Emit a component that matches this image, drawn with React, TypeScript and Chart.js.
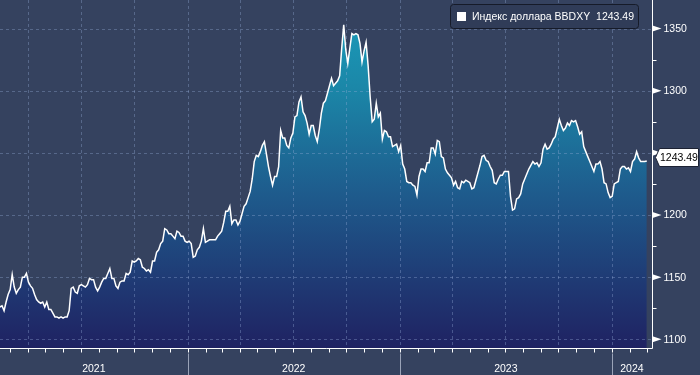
import React, { useEffect, useRef } from 'react';
import { Chart, registerables } from 'chart.js';

Chart.register(...registerables);

// Half-weekly readings of the Bloomberg Dollar Spot Index, first point 2021-02-12
const firstDate = [2021, 1, 12];
const stepDays = 3.5;
const values = [
  1126, 1127, 1123, 1130, 1136, 1140, 1152, 1142, 1137, 1140,
  1142, 1150, 1150, 1153, 1146, 1143, 1141, 1136, 1132, 1130,
  1129, 1130, 1126, 1130, 1124, 1124, 1121, 1118, 1118, 1117,
  1118, 1117, 1118, 1118, 1123, 1141, 1142, 1138, 1137, 1143,
  1144, 1143, 1142, 1144, 1149, 1148, 1148, 1142, 1139, 1142,
  1146, 1149, 1149, 1153, 1157, 1149, 1149, 1143, 1141, 1146,
  1147, 1147, 1153, 1152, 1154, 1163, 1162, 1163, 1165, 1164,
  1158, 1157, 1155, 1156, 1154, 1163, 1163, 1170, 1172, 1177,
  1179, 1189, 1188, 1185, 1185, 1183, 1181, 1187, 1186, 1183,
  1183, 1179, 1178, 1179, 1177, 1166, 1167, 1172, 1174, 1179,
  1189, 1178, 1179, 1180, 1180, 1180, 1180, 1183, 1185, 1187,
  1194, 1203, 1203, 1207, 1193, 1196, 1196, 1192, 1195, 1201,
  1207, 1209, 1214, 1219, 1229, 1243, 1248, 1247, 1251, 1256,
  1259, 1249, 1239, 1231, 1224, 1231, 1231, 1239, 1268, 1262,
  1262, 1256, 1254, 1262, 1266, 1279, 1280, 1291, 1295, 1283,
  1280, 1274, 1265, 1272, 1272, 1264, 1259, 1269, 1282, 1290,
  1292, 1298, 1304, 1310, 1304, 1306, 1308, 1312, 1334, 1353,
  1333, 1322, 1334, 1346, 1345, 1346, 1345, 1338, 1323, 1332,
  1339, 1320, 1295, 1275, 1277, 1290, 1279, 1282, 1261, 1268,
  1267, 1263, 1263, 1255, 1256, 1257, 1251, 1256, 1241, 1237,
  1227, 1226, 1226, 1224, 1223, 1216, 1231, 1237, 1237, 1235,
  1242, 1242, 1254, 1254, 1249, 1260, 1259, 1247, 1246, 1237,
  1234, 1232, 1230, 1224, 1227, 1222, 1221, 1227, 1226, 1228,
  1227, 1226, 1221, 1222, 1228, 1234, 1240, 1247, 1248, 1244,
  1243, 1239, 1236, 1226, 1225, 1229, 1232, 1232, 1235, 1235,
  1235, 1215, 1204, 1205, 1213, 1214, 1217, 1225, 1229, 1233,
  1237, 1240, 1243, 1241, 1242, 1239, 1242, 1253, 1257, 1253,
  1254, 1257, 1261, 1263, 1270, 1277, 1272, 1268, 1270, 1274,
  1272, 1276, 1275, 1276, 1271, 1265, 1267, 1255, 1251, 1247,
  1243, 1239, 1235, 1241, 1241, 1243, 1237, 1226, 1225, 1218,
  1214, 1215, 1225, 1226, 1227, 1237, 1239, 1239, 1237, 1238,
  1235, 1243, 1245, 1251, 1246, 1243, 1243, 1243, 1243.49,
];
const yTicks = [1100, 1150, 1200, 1250, 1300, 1350];
const yMinorTicks = [1125, 1175, 1225, 1275, 1325];
const years = [2021, 2022, 2023, 2024];
const seriesName = 'Индекс доллара BBDXY';
const lastValueText = '1243.49';
const xRangeDates = [[2021, 1, 12], [2024, 2, 10]];
const yRange = [1093, 1373];

const DAY = 86400000;
const BASE = Date.UTC(2021, 0, 1);
const dayOf = (y: number, m: number, d: number) => (Date.UTC(y, m, d) - BASE) / DAY;

const FONT = '10.5px "Liberation Sans", Arial, sans-serif';
const BG = '#35425f';

const overlay = {
  id: 'overlay',
  beforeDraw(chart: any) {
    const { ctx, width, height } = chart;
    ctx.save();
    ctx.fillStyle = BG;
    ctx.fillRect(0, 0, width, height);
    ctx.restore();
  },
  afterDatasetDraw(chart: any, args: any) {
    if (args.index !== 1) return;
    const { ctx, chartArea: a, scales } = chart;
    const x = scales.x, y = scales.y;
    ctx.save();
    ctx.strokeStyle = 'rgba(150,172,215,0.36)';
    ctx.lineWidth = 1;
    ctx.setLineDash([3, 3]);
    ctx.beginPath();
    for (const t of yTicks) {
      const py = Math.round(y.getPixelForValue(t)) + 0.5;
      ctx.moveTo(a.left, py);
      ctx.lineTo(a.right, py);
    }
    for (const yr of years) {
      for (const m of [0, 3, 6, 9]) {
        const d = dayOf(yr, m, 1);
        if (d <= x.min || d >= x.max) continue;
        const px = Math.round(x.getPixelForValue(d)) + 0.5;
        ctx.moveTo(px, a.top);
        ctx.lineTo(px, a.bottom);
      }
    }
    ctx.stroke();
    ctx.restore();
  },
  afterDraw(chart: any) {
    const { ctx, chartArea: a, scales, width, height } = chart;
    const x = scales.x, y = scales.y;
    ctx.save();
    ctx.strokeStyle = '#ffffff';
    ctx.lineWidth = 1;
    ctx.beginPath();
    const rx = Math.round(a.right) + 0.5;
    const by = Math.round(a.bottom) + 0.5;
    ctx.moveTo(rx, 0);
    ctx.lineTo(rx, by);
    ctx.moveTo(a.left, by);
    ctx.lineTo(rx, by);
    for (const t of yMinorTicks) {
      const py = Math.round(y.getPixelForValue(t)) + 0.5;
      ctx.moveTo(rx, py);
      ctx.lineTo(rx + 4, py);
    }
    for (const yr of years) {
      for (let m = 0; m < 12; m++) {
        const d = dayOf(yr, m, 1);
        if (d <= x.min || d > x.max) continue;
        const px = Math.round(x.getPixelForValue(d)) + 0.5;
        ctx.moveTo(px, by);
        ctx.lineTo(px, by + 4);
      }
    }
    ctx.stroke();
    ctx.fillStyle = '#ffffff';
    ctx.font = FONT;
    ctx.textBaseline = 'middle';
    ctx.textAlign = 'left';
    for (const t of yTicks) {
      const py = y.getPixelForValue(t);
      ctx.beginPath();
      ctx.moveTo(rx, py - 3);
      ctx.lineTo(rx + 9, py);
      ctx.lineTo(rx, py + 3);
      ctx.closePath();
      ctx.fill();
      ctx.fillText(String(t), rx + 11, py + 0.5);
    }
    ctx.strokeStyle = '#9aa3b8';
    ctx.beginPath();
    for (const yr of years) {
      const d = dayOf(yr, 0, 1);
      if (d <= x.min || d >= x.max) continue;
      const px = Math.round(x.getPixelForValue(d)) + 0.5;
      ctx.moveTo(px, by + 5);
      ctx.lineTo(px, height);
    }
    ctx.stroke();
    ctx.fillStyle = '#ffffff';
    ctx.textAlign = 'center';
    for (const yr of years) {
      const s = Math.max(dayOf(yr, 0, 1), x.min);
      const e = Math.min(dayOf(yr + 1, 0, 1), x.max);
      const cx = (x.getPixelForValue(s) + x.getPixelForValue(e)) / 2;
      ctx.fillText(String(yr), cx, by + 21);
    }
    const last = values[values.length - 1];
    const ty = Math.round(y.getPixelForValue(last)) - 3.5;
    const tl = rx + 3, tb = tl + 4, tr = width - 1.5;
    ctx.beginPath();
    ctx.moveTo(tl, ty);
    ctx.lineTo(tb, ty - 9);
    ctx.lineTo(tr, ty - 9);
    ctx.lineTo(tr, ty + 9);
    ctx.lineTo(tb, ty + 9);
    ctx.closePath();
    ctx.fillStyle = '#ffffff';
    ctx.fill();
    ctx.strokeStyle = '#1c2233';
    ctx.stroke();
    ctx.fillStyle = '#000000';
    ctx.textAlign = 'left';
    ctx.fillText(lastValueText, tb + 0.5, ty + 0.5);
    const lx = 450.5, ly = 4.5, lw = 188, lh = 24;
    ctx.beginPath();
    ctx.roundRect(lx, ly, lw, lh, 3);
    ctx.fillStyle = '#303c58';
    ctx.fill();
    ctx.strokeStyle = '#161b29';
    ctx.stroke();
    ctx.fillStyle = '#ffffff';
    ctx.fillRect(457, 12, 9, 9);
    ctx.font = FONT;
    ctx.fillText(seriesName + '  ' + lastValueText, 472, 17);
    ctx.restore();
  },
};

export default function App() {
  const ref = useRef<HTMLCanvasElement | null>(null);
  useEffect(() => {
    document.body.style.margin = '0';
    const start = dayOf(firstDate[0], firstDate[1], firstDate[2]);
    const points = values.map((v, i) => ({ x: start + i * stepDays, y: v }));
    const chart = new Chart(ref.current as HTMLCanvasElement, {
      type: 'line',
      data: {
        datasets: [
          {
            data: points,
            borderColor: '#ffffff',
            borderWidth: 1.5,
            pointRadius: 0,
            fill: false,
            tension: 0,
          },
          {
            data: points,
            borderWidth: 0,
            borderColor: 'rgba(0,0,0,0)',
            pointRadius: 0,
            tension: 0,
            fill: 'start',
            backgroundColor: (c: any) => {
              const a = c.chart.chartArea;
              if (!a) return '#1e5a8c';
              const g = c.chart.ctx.createLinearGradient(0, a.top, 0, a.bottom);
              g.addColorStop(0, '#1a9fbd');
              g.addColorStop(0.25, '#1b87a8');
              g.addColorStop(0.55, '#1e5c8d');
              g.addColorStop(0.8, '#1f3b75');
              g.addColorStop(1, '#1f2262');
              return g;
            },
          },
        ],
      },
      options: {
        responsive: false,
        animation: false,
        devicePixelRatio: 1,
        layout: { padding: { left: 0, top: 0, right: 48, bottom: 27 } },
        scales: {
          x: {
            type: 'linear',
            display: false,
            min: dayOf(xRangeDates[0][0], xRangeDates[0][1], xRangeDates[0][2]),
            max: dayOf(xRangeDates[1][0], xRangeDates[1][1], xRangeDates[1][2]),
          },
          y: { type: 'linear', display: false, min: yRange[0], max: yRange[1] },
        },
        plugins: { legend: { display: false }, tooltip: { enabled: false } },
      },
      plugins: [overlay],
    } as any);
    return () => chart.destroy();
  }, []);
  return (
    <div style={{ position: 'fixed', left: 0, top: 0, width: 700, height: 375 }}>
      <canvas ref={ref} width={700} height={375} style={{ display: 'block', width: 700, height: 375 }} />
    </div>
  );
}
